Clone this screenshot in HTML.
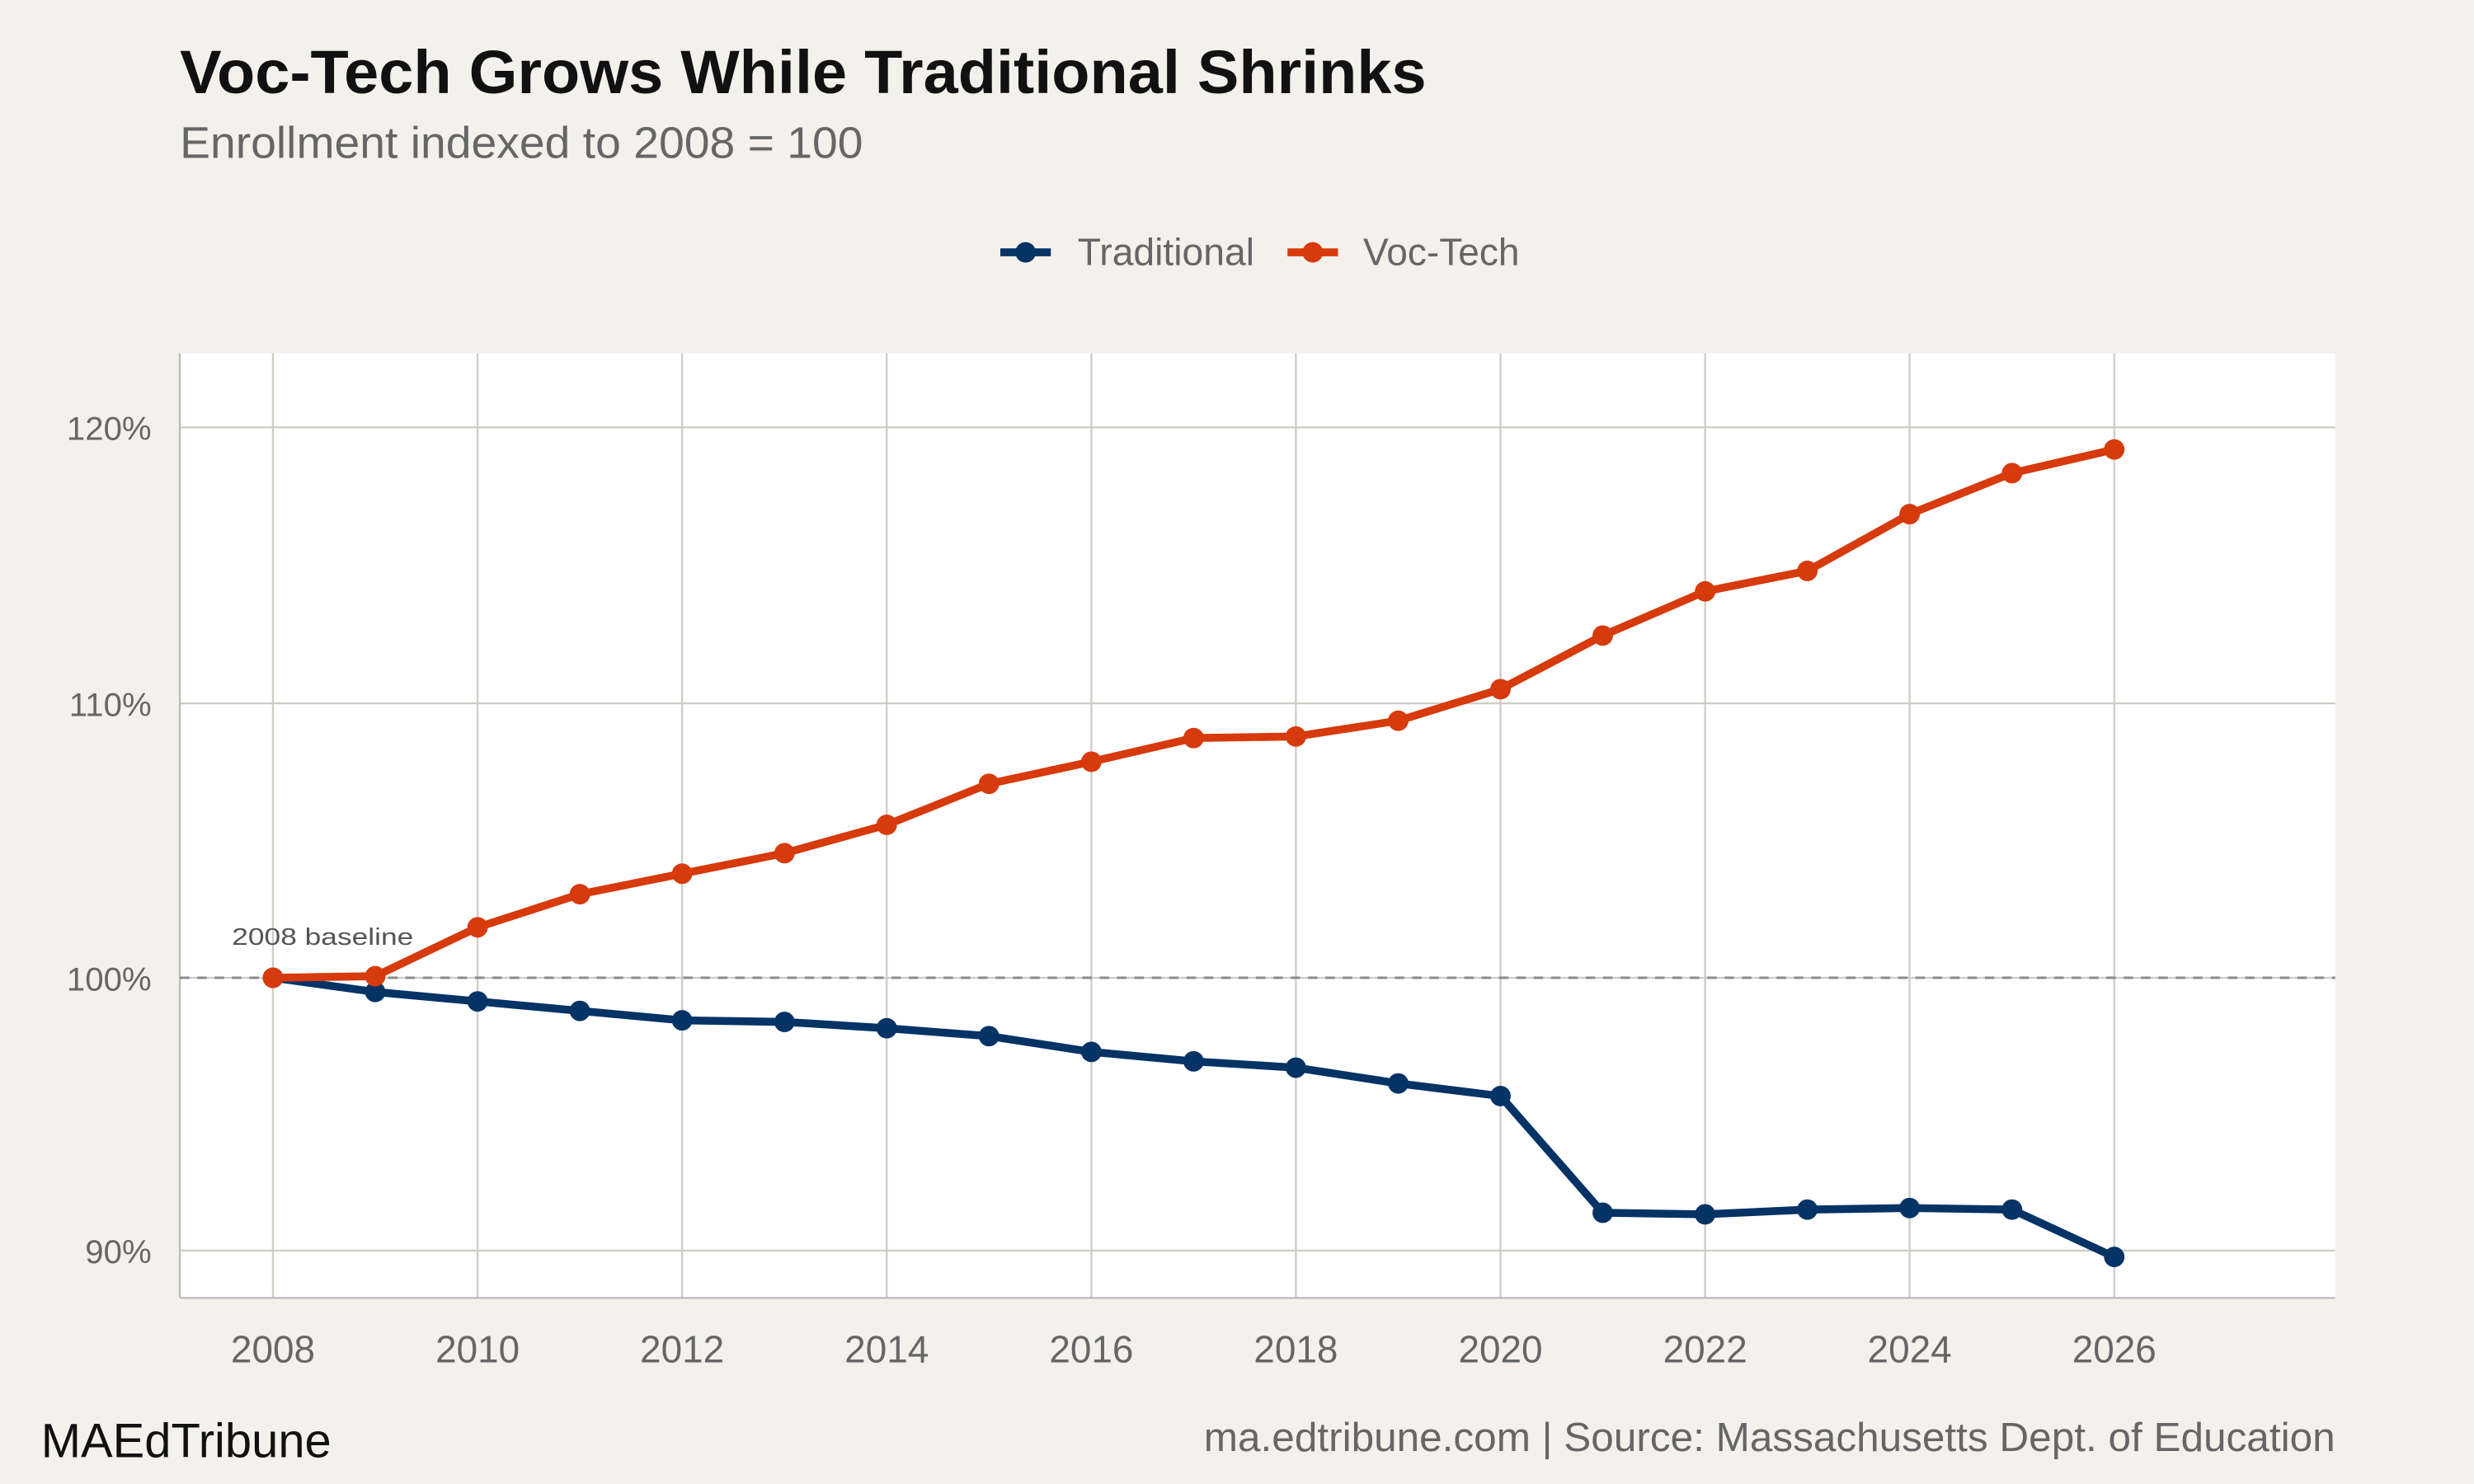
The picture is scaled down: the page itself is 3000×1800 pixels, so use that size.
<!DOCTYPE html>
<html><head><meta charset="utf-8"><style>
html,body{margin:0;padding:0;background:#f4f1ec;}
svg{display:block;}
text{font-family:"Liberation Sans",Arial,sans-serif;}
</style></head><body>
<svg width="3000" height="1800" viewBox="0 0 1568 941" preserveAspectRatio="none" xmlns="http://www.w3.org/2000/svg">
<rect width="1568" height="941" fill="#f4f1ec"/>
<text x="114" y="59" font-size="39" font-weight="bold" fill="#111" textLength="790" lengthAdjust="spacingAndGlyphs">Voc-Tech Grows While Traditional Shrinks</text>
<text x="114" y="100" font-size="28" fill="#666" textLength="433" lengthAdjust="spacingAndGlyphs">Enrollment indexed to 2008 = 100</text>
<line x1="634" y1="160" x2="666" y2="160" stroke="#063366" stroke-width="5"/>
<circle cx="650" cy="160" r="6.5" fill="#063366"/>
<text x="683" y="168" font-size="24" fill="#666" textLength="112" lengthAdjust="spacingAndGlyphs">Traditional</text>
<line x1="816" y1="160" x2="848" y2="160" stroke="#d63a0d" stroke-width="5"/>
<circle cx="832" cy="160" r="6.5" fill="#d63a0d"/>
<text x="864" y="168" font-size="24" fill="#666" textLength="99" lengthAdjust="spacingAndGlyphs">Voc-Tech</text>
<rect x="114" y="224" width="1366" height="599" fill="#ffffff"/>
<g stroke="#cfccc6" stroke-width="1.2">
<line x1="114" y1="271" x2="1480" y2="271"/>
<line x1="114" y1="446" x2="1480" y2="446"/>
<line x1="114" y1="620" x2="1480" y2="620"/>
<line x1="114" y1="793" x2="1480" y2="793"/>
<line x1="173" y1="224" x2="173" y2="823"/>
<line x1="302.7" y1="224" x2="302.7" y2="823"/>
<line x1="432.3" y1="224" x2="432.3" y2="823"/>
<line x1="562" y1="224" x2="562" y2="823"/>
<line x1="691.7" y1="224" x2="691.7" y2="823"/>
<line x1="821.3" y1="224" x2="821.3" y2="823"/>
<line x1="951" y1="224" x2="951" y2="823"/>
<line x1="1080.7" y1="224" x2="1080.7" y2="823"/>
<line x1="1210.3" y1="224" x2="1210.3" y2="823"/>
<line x1="1340" y1="224" x2="1340" y2="823"/>
</g>
<line x1="114" y1="224" x2="114" y2="823" stroke="#bbb" stroke-width="1.2"/>
<line x1="114" y1="823" x2="1480" y2="823" stroke="#bbb" stroke-width="1.2"/>
<line x1="114" y1="620" x2="1480" y2="620" stroke="#888" stroke-width="1.5" stroke-dasharray="6,5"/>
<text x="147" y="599" font-size="15" fill="#555" textLength="115" lengthAdjust="spacingAndGlyphs">2008 baseline</text>
<g font-size="21" fill="#666" text-anchor="end">
<text x="96" y="279">120%</text><text x="96" y="454">110%</text><text x="96" y="628">100%</text><text x="96" y="801">90%</text>
</g>
<g font-size="24" fill="#666" text-anchor="middle">
<text x="173" y="864">2008</text><text x="302.7" y="864">2010</text><text x="432.3" y="864">2012</text><text x="562" y="864">2014</text><text x="691.7" y="864">2016</text><text x="821.3" y="864">2018</text><text x="951" y="864">2020</text><text x="1080.7" y="864">2022</text><text x="1210.3" y="864">2024</text><text x="1340" y="864">2026</text>
</g>
<g fill="#063366">
<polyline fill="none" stroke="#063366" stroke-width="5" stroke-linejoin="round" points="173,620 237.8,629 302.7,635 367.5,641 432.3,647 497.2,648 562,652 626.8,657 691.7,667 756.5,673 821.3,677 886.2,687 951,695 1015.8,769 1080.7,770 1145.5,767 1210.3,766 1275.2,767 1340,797"/>
<circle cx="173" cy="620" r="6.5"/><circle cx="237.8" cy="629" r="6.5"/><circle cx="302.7" cy="635" r="6.5"/><circle cx="367.5" cy="641" r="6.5"/><circle cx="432.3" cy="647" r="6.5"/><circle cx="497.2" cy="648" r="6.5"/><circle cx="562" cy="652" r="6.5"/><circle cx="626.8" cy="657" r="6.5"/><circle cx="691.7" cy="667" r="6.5"/><circle cx="756.5" cy="673" r="6.5"/><circle cx="821.3" cy="677" r="6.5"/><circle cx="886.2" cy="687" r="6.5"/><circle cx="951" cy="695" r="6.5"/><circle cx="1015.8" cy="769" r="6.5"/><circle cx="1080.7" cy="770" r="6.5"/><circle cx="1145.5" cy="767" r="6.5"/><circle cx="1210.3" cy="766" r="6.5"/><circle cx="1275.2" cy="767" r="6.5"/><circle cx="1340" cy="797" r="6.5"/>
</g>
<g fill="#d63a0d">
<polyline fill="none" stroke="#d63a0d" stroke-width="5" stroke-linejoin="round" points="173,620 237.8,619 302.7,588 367.5,567 432.3,554 497.2,541 562,523 626.8,497 691.7,483 756.5,468 821.3,467 886.2,457 951,437 1015.8,403 1080.7,375 1145.5,362 1210.3,326 1275.2,300 1340,285"/>
<circle cx="173" cy="620" r="6.5"/><circle cx="237.8" cy="619" r="6.5"/><circle cx="302.7" cy="588" r="6.5"/><circle cx="367.5" cy="567" r="6.5"/><circle cx="432.3" cy="554" r="6.5"/><circle cx="497.2" cy="541" r="6.5"/><circle cx="562" cy="523" r="6.5"/><circle cx="626.8" cy="497" r="6.5"/><circle cx="691.7" cy="483" r="6.5"/><circle cx="756.5" cy="468" r="6.5"/><circle cx="821.3" cy="467" r="6.5"/><circle cx="886.2" cy="457" r="6.5"/><circle cx="951" cy="437" r="6.5"/><circle cx="1015.8" cy="403" r="6.5"/><circle cx="1080.7" cy="375" r="6.5"/><circle cx="1145.5" cy="362" r="6.5"/><circle cx="1210.3" cy="326" r="6.5"/><circle cx="1275.2" cy="300" r="6.5"/><circle cx="1340" cy="285" r="6.5"/>
</g>
<text x="26" y="924" font-size="30.5" fill="#111" textLength="184" lengthAdjust="spacingAndGlyphs">MAEdTribune</text>
<text x="763" y="920" font-size="25.5" fill="#666" textLength="717" lengthAdjust="spacingAndGlyphs">ma.edtribune.com | Source: Massachusetts Dept. of Education</text>
</svg>
</body></html>
